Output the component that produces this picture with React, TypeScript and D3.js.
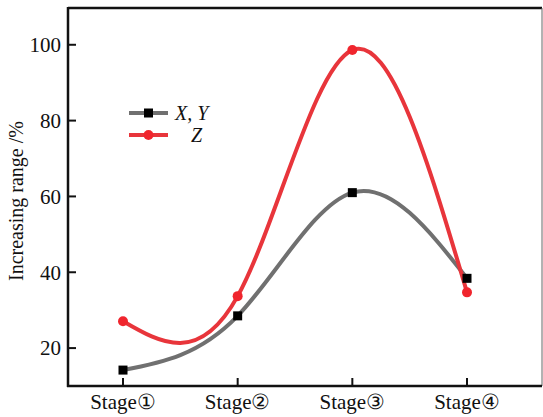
import React from 'react';
import * as d3 from 'd3';

const stages = ['Stage①', 'Stage②', 'Stage③', 'Stage④'];
const xyValues = [14.2, 28.5, 61.0, 38.4];
const zValues = [27.1, 33.7, 98.6, 34.7];
const yTicks = [20, 40, 60, 80, 100];

const width = 543;
const height = 417;
const left = 68;
const right = 542;
const top = 8;
const bottom = 386;

const App = () => {
  const x = d3.scaleLinear().domain([0, 3]).range([123, 467]);
  const y = d3.scaleLinear().domain([10, 109.7]).range([bottom, top]);

  const line = d3.line<number>()
    .x((d, i) => x(i))
    .y(d => y(d))
    .curve(d3.curveNatural);

  const font = 'Liberation Serif, Times New Roman, serif';

  return (
    <svg width={width} height={height} style={{ position: 'absolute', left: 0, top: 0 }}>
      <rect x={0} y={0} width={width} height={height} fill="#fff" />
      {/* frame */}
      <line x1={left} x2={right} y1={top} y2={top} stroke="#111" strokeWidth={2.5} />
      <line x1={right} x2={right} y1={top} y2={bottom} stroke="#666" strokeWidth={1} />
      <line x1={left} x2={left} y1={top - 1} y2={bottom + 1} stroke="#111" strokeWidth={2.5} />
      <line x1={left - 1} x2={right} y1={bottom} y2={bottom} stroke="#111" strokeWidth={2.5} />

      {yTicks.map(t => (
        <g key={t}>
          <line x1={left} x2={left + 8} y1={y(t)} y2={y(t)} stroke="#111" strokeWidth={2} />
          <text x={left - 7} y={y(t)} dy="0.35em" textAnchor="end" fontFamily={font} fontSize={21} fill="#111">{t}</text>
        </g>
      ))}
      {stages.map((s, i) => (
        <g key={s}>
          <line x1={x(i)} x2={x(i)} y1={bottom} y2={bottom - 8} stroke="#111" strokeWidth={2} />
          <text x={x(i)} y={bottom + 16} dy="0.35em" textAnchor="middle" fontFamily={font} fontSize={21} fill="#111">{s}</text>
        </g>
      ))}

      <text transform={`translate(23, 201) rotate(-90)`} textAnchor="middle"
        fontFamily={font} fontSize={20} fill="#111">Increasing range /%</text>

      <path d={line(xyValues) || ''} fill="none" stroke="#707070" strokeWidth={4} />
      <path d={line(zValues) || ''} fill="none" stroke="#e8353b" strokeWidth={4} />

      {xyValues.map((v, i) => (
        <rect key={i} x={x(i) - 4.5} y={y(v) - 4.5} width={9} height={9} fill="#000" />
      ))}
      {zValues.map((v, i) => (
        <circle key={i} cx={x(i)} cy={y(v)} r={5} fill="#f0252d" />
      ))}

      {/* legend */}
      <line x1={129} x2={168} y1={113} y2={113} stroke="#707070" strokeWidth={4} />
      <rect x={144} y={108.5} width={9} height={9} fill="#000" />
      <text x={175} y={113} dy="0.35em" fontFamily={font} fontStyle="italic" fontSize={20} fill="#111">X, Y</text>
      <line x1={129} x2={168} y1={135} y2={135} stroke="#e8353b" strokeWidth={4} />
      <circle cx={148.5} cy={135} r={5} fill="#f0252d" />
      <text x={191} y={135} dy="0.35em" fontFamily={font} fontStyle="italic" fontSize={20} fill="#111">Z</text>
    </svg>
  );
};

export default App;
